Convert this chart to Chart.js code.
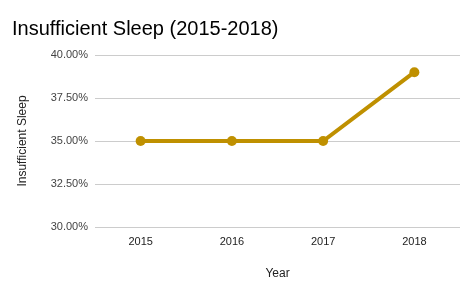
<!DOCTYPE html>
<html lang="en">
<head>
    <meta charset="UTF-8">
    <title>Insufficient Sleep (2015-2018)</title>
    <script src="https://cdn.jsdelivr.net/npm/chart.js"></script>
    <style>
        html, body { margin: 0; padding: 0; background: #fff; }
    </style>
</head>
<body>
    <canvas id="sleepChart" width="475" height="294"></canvas>
    <script>
        // data
        const years = ['2015', '2016', '2017', '2018'];
        const insufficientSleep = [35, 35, 35, 39]; // percent
        const yTicks = [30, 32.5, 35, 37.5, 40];

        const ctx = document.getElementById('sleepChart').getContext('2d');
        new Chart(ctx, {
            type: 'line',
            data: {
                labels: years,
                datasets: [{
                    label: 'Insufficient Sleep',
                    data: insufficientSleep,
                    borderColor: '#bf9000',
                    backgroundColor: '#bf9000',
                    borderWidth: 4,
                    pointRadius: 5,
                    pointBackgroundColor: '#bf9000',
                    pointBorderWidth: 0,
                    tension: 0
                }]
            },
            options: {
                responsive: false,
                animation: false,
                layout: { padding: { left: 12, top: 17, right: 15, bottom: 0 } },
                plugins: {
                    legend: { display: false },
                    tooltip: { enabled: false },
                    title: {
                        display: true,
                        text: 'Insufficient Sleep (2015-2018)',
                        align: 'start',
                        color: '#000',
                        font: { family: 'Liberation Sans, Arial', size: 20, weight: 'normal' },
                        padding: { top: 0, bottom: 14 }
                    }
                },
                scales: {
                    x: {
                        offset: true,
                        grid: { display: false, drawTicks: false },
                        border: { display: false },
                        ticks: {
                            color: '#222',
                            padding: 8,
                            font: { family: 'Liberation Sans, Arial', size: 11 }
                        },
                        title: {
                            display: true,
                            text: 'Year',
                            color: '#222',
                            font: { family: 'Liberation Sans, Arial', size: 12 },
                            padding: { top: 4, bottom: 13 }
                        },
                        afterFit: (axis) => { axis.height = 67; }
                    },
                    y: {
                        min: 30,
                        max: 40,
                        afterBuildTicks: (axis) => {
                            axis.ticks = yTicks.map(v => ({ value: v }));
                        },
                        grid: { color: '#cccccc', drawTicks: false },
                        border: { display: false },
                        ticks: {
                            color: '#444',
                            padding: 7,
                            font: { family: 'Liberation Sans, Arial', size: 11 },
                            callback: (v) => v.toFixed(2) + '%'
                        },
                        title: {
                            display: true,
                            text: 'Insufficient Sleep',
                            color: '#222',
                            font: { family: 'Liberation Sans, Arial', size: 12 },
                            padding: { top: 3, bottom: 0 }
                        },
                        afterFit: (axis) => { axis.width = 83; }
                    }
                }
            }
        });
    </script>
</body>
</html>
